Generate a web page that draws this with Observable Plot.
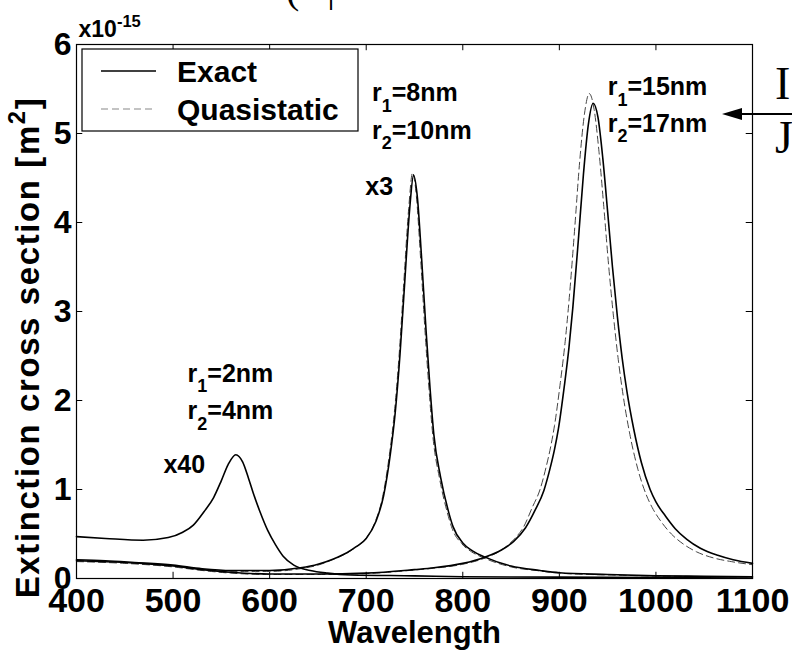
<!DOCTYPE html>
<html><head><meta charset="utf-8">
<script src="https://cdn.jsdelivr.net/npm/d3@7"></script>
<script src="https://cdn.jsdelivr.net/npm/@observablehq/plot@0.6"></script>
<style>
body{margin:0;background:#fff;}
#chart{position:relative;width:792px;height:650px;overflow:hidden;background:#fff;}
</style></head><body><div id="chart"></div>
<script>
// ---- tick values ----
const xTicks = [400, 500, 600, 700, 800, 900, 1000, 1100];
const yTicks = [0, 1, 2, 3, 4, 5, 6];

// ---- r1=2nm, r2=4nm (x40), exact only ----
const lamA = [400,430,469,495,510,521,532,542,550,557,565,572,578,583,590,598,606,614,625,642,660,684,750,800,900,1000,1100];
const exactA = [0.47,0.45,0.43,0.46,0.52,0.60,0.75,0.91,1.10,1.28,1.39,1.31,1.13,0.96,0.75,0.54,0.38,0.25,0.15,0.09,0.06,0.04,0.03,0.02,0.015,0.01,0.005];

// ---- r1=8nm, r2=10nm (x3) ----
const lamB = [400,430,460,500,530,560,600,632,650,666,680,690,700,710,718,725,730,735,740,745,749,753,757,762,766,770,777,785,790,800,810,823,850,880,900,950,1000,1050,1100];
const exactB = [0.21,0.20,0.18,0.15,0.11,0.09,0.09,0.12,0.16,0.22,0.29,0.36,0.45,0.64,0.93,1.40,1.86,2.52,3.35,4.15,4.53,4.28,3.66,2.78,2.15,1.62,1.14,0.76,0.58,0.40,0.31,0.24,0.14,0.09,0.065,0.045,0.03,0.025,0.02];
const lamBq = [400,430,460,500,530,560,600,632,650,665,679,689,699,709,717,724,729,734,739,744,748,752,756,761,765,769,776,784,789,799,809,822,850,880,900,950,1000,1050,1100];
const quasiB = [0.20,0.19,0.17,0.14,0.10,0.08,0.08,0.11,0.15,0.21,0.28,0.35,0.44,0.63,0.92,1.39,1.85,2.50,3.34,4.16,4.56,4.29,3.65,2.76,2.13,1.60,1.12,0.74,0.56,0.39,0.30,0.23,0.13,0.085,0.06,0.04,0.028,0.022,0.018];

// ---- r1=15nm, r2=17nm ----
const lamC = [400,450,500,530,560,600,650,700,750,770,800,823,840,853,865,875,884,890,895,899,905,910,914,920,925,930,935,940,945,950,955,960,965,970,977,985,994,1000,1010,1020,1032,1046,1064,1080,1100];
const exactC = [0.20,0.18,0.14,0.10,0.07,0.05,0.05,0.06,0.10,0.12,0.17,0.24,0.32,0.42,0.57,0.77,0.99,1.22,1.45,1.68,2.15,2.6,3.05,3.85,4.55,5.1,5.34,5.18,4.72,4.12,3.5,2.95,2.48,2.1,1.68,1.3,1.0,0.86,0.7,0.56,0.44,0.34,0.26,0.21,0.17];
const lamCq = [400,450,500,530,560,600,650,700,750,770,800,823,840,853,863,872,880,886,891,895,901,906,910,916,921,926,931,936,941,946,951,956,961,966,973,981,990,996,1006,1016,1028,1042,1060,1078,1100];
const quasiC = [0.19,0.17,0.13,0.09,0.06,0.045,0.045,0.055,0.095,0.115,0.16,0.23,0.32,0.44,0.58,0.80,1.0,1.24,1.48,1.72,2.2,2.66,3.12,3.95,4.68,5.22,5.45,5.27,4.8,4.18,3.52,2.95,2.46,2.06,1.62,1.24,0.94,0.8,0.63,0.5,0.39,0.3,0.23,0.19,0.155];

// ---- annotations ----
const annText = ["r_1=8nm","r_2=10nm","x3","r_1=15nm","r_2=17nm","r_1=2nm","r_2=4nm","x40"];
const annLam  = [706, 706, 699, 950, 950, 515, 515, 490];
const annVal  = [5.45, 5.03, 4.4, 5.52, 5.11, 2.3, 1.88, 1.27];

const legendLabels = ["Exact", "Quasistatic"];

const FONT = "'Liberation Sans', Arial, Helvetica, sans-serif";
const tbl = (l, v) => l.map((d, i) => ({l: d, v: v[i]}));
const ann = annText.map((t, i) => ({t, l: annLam[i], v: annVal[i]}));

const solid = {x: "l", y: "v", stroke: "#000", strokeWidth: 1.6, curve: "monotone-x"};
const dashed = {x: "l", y: "v", stroke: "#444", strokeWidth: 1, strokeDasharray: "7,4", curve: "monotone-x"};

const plot = Plot.plot({
  width: 792, height: 650,
  marginLeft: 76, marginRight: 40, marginTop: 44, marginBottom: 72,
  style: {fontFamily: FONT, background: "#fff", color: "#000", overflow: "visible"},
  x: {domain: [400, 1100]},
  y: {domain: [0, 6]},
  marks: [
    Plot.ruleX(xTicks.slice(1, -1), {y1: 0, y2: 0.07, stroke: "#000"}),
    Plot.ruleX(xTicks.slice(1, -1), {y1: 6, y2: 5.93, stroke: "#000"}),
    Plot.ruleY(yTicks.slice(1, -1), {x1: 400, x2: 406.5, stroke: "#000"}),
    Plot.ruleY(yTicks.slice(1, -1), {x1: 1100, x2: 1093.5, stroke: "#000"}),
    Plot.axisX(xTicks, {tickSize: 0, tickPadding: 9, fontSize: 34, fontWeight: "bold", label: null, tickFormat: d => String(d)}),
    Plot.axisY(yTicks, {tickSize: 0, tickPadding: 5, fontSize: 32, fontWeight: "bold", label: null, tickFormat: d => String(d)}),
    Plot.line(tbl(lamBq, quasiB), dashed),
    Plot.line(tbl(lamCq, quasiC), dashed),
    Plot.line(tbl(lamA, exactA), solid),
    Plot.line(tbl(lamB, exactB), solid),
    Plot.line(tbl(lamC, exactC), solid),
    Plot.frame({stroke: "#000", strokeWidth: 1.2}),
    Plot.text(ann, {x: "l", y: "v", text: "t", textAnchor: "start", lineAnchor: "middle", fontSize: 25, fontWeight: "bold", fill: "#000"}),
    Plot.text(["Wavelength"], {frameAnchor: "bottom", lineAnchor: "middle", textAnchor: "middle", dy: 55, fontSize: 31, fontWeight: "bold", fill: "#000"}),
    Plot.text(["Extinction cross section [m^2]"], {frameAnchor: "left", textAnchor: "middle", lineAnchor: "middle", rotate: -90, dx: -48, dy: 36, fontSize: 33, fontWeight: "bold", fill: "#000"}),
    Plot.text(["x10^-15"], {frameAnchor: "top-left", textAnchor: "start", lineAnchor: "middle", dx: 2, dy: -15, fontSize: 23, fontWeight: "bold", fill: "#000"})
  ]
});

// sub/superscripts
d3.select(plot).selectAll("text").each(function() {
  const t = this.textContent;
  if (!/[_^]/.test(t)) return;
  const parts = t.split(/([_^]-?\d+)/).filter(s => s.length);
  const sel = d3.select(this);
  sel.text(null);
  let shifted = 0;
  parts.forEach(p => {
    const ts = sel.append("tspan");
    if (p[0] === "_" || p[0] === "^") {
      const up = p[0] === "^";
      const dy = up ? -0.42 : 0.42;
      ts.attr("font-size", "0.72em").attr("dy", (dy / 0.72) + "em").text(p.slice(1));
      shifted = dy;
    } else {
      if (shifted) ts.attr("dy", (-shifted) + "em");
      shifted = 0;
      ts.text(p);
    }
  });
});
// wider tracking on the y-axis title, as in the reference
d3.select(plot).selectAll("text").filter(function() { return this.textContent.startsWith("Extinction"); })
  .attr("letter-spacing", "1.6px");

// legend and surrounding fragments
const svg = d3.select(plot);
const lg = svg.append("g").attr("font-family", FONT).attr("font-weight", "bold").attr("font-size", 30).attr("text-anchor", "start");
lg.append("rect").attr("x", 82).attr("y", 49).attr("width", 276).attr("height", 82).attr("fill", "#fff").attr("stroke", "#000").attr("stroke-width", 1.2);
lg.append("line").attr("x1", 101).attr("x2", 156).attr("y1", 71).attr("y2", 71).attr("stroke", "#000").attr("stroke-width", 1.4);
lg.append("line").attr("x1", 101).attr("x2", 156).attr("y1", 109).attr("y2", 109).attr("stroke", "#888").attr("stroke-width", 1.2).attr("stroke-dasharray", "7,4");
lg.append("text").attr("x", 177).attr("y", 71).attr("dy", "0.35em").attr("text-anchor", "start").text(legendLabels[0]);
lg.append("text").attr("x", 177).attr("y", 109).attr("dy", "0.35em").attr("text-anchor", "start").text(legendLabels[1]);

const ext = svg.append("g").attr("font-family", "'Liberation Serif', 'Times New Roman', serif").attr("fill", "#000").attr("text-anchor", "start");
ext.append("text").attr("x", 775).attr("y", 99).attr("font-size", 46).text("I");
ext.append("text").attr("x", 775).attr("y", 153).attr("font-size", 46).text("J");
ext.append("text").attr("x", 286).attr("y", 3).attr("font-size", 40).text("(");
ext.append("text").attr("x", 327).attr("y", 1).attr("font-size", 40).text("|");
ext.append("line").attr("x1", 736).attr("x2", 795).attr("y1", 114).attr("y2", 114).attr("stroke", "#000").attr("stroke-width", 2);
ext.append("path").attr("d", "M722,114 L742,108 L742,120 Z").attr("fill", "#000");

document.getElementById("chart").appendChild(plot);
</script></body></html>
